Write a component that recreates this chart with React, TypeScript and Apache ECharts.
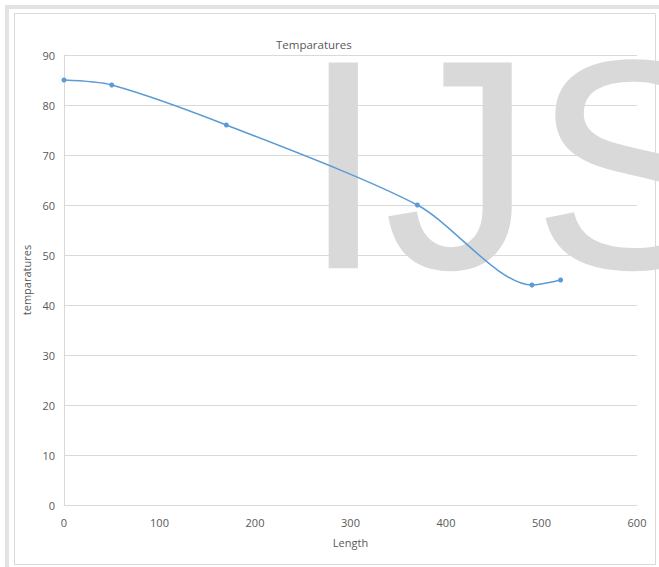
import React, { useEffect, useRef } from "react";
import * as echarts from "echarts";

// Measured temperatures along the length
const lengths = [0, 50, 170, 370, 490, 520];
const temperatures = [85, 84, 76, 60, 44, 45];

const chartTitle = "Temparatures";
const xAxisName = "Length";
const yAxisName = "temparatures";
const watermark = "IJS";

const FONT = "'Open Sans', 'Noto Sans', sans-serif";
const LABEL_COLOR = "#595959";
const GRID_COLOR = "#d9d9d9";

export default function App() {
  const ref = useRef<HTMLDivElement>(null);

  useEffect(() => {
    document.body.style.margin = "0";
    if (!ref.current) return;
    const chart = echarts.init(ref.current, null, { renderer: "svg" });
    const points = lengths.map((x, i) => [x, temperatures[i]]);

    chart.setOption({
      animation: false,
      backgroundColor: "#ffffff",
      title: {
        text: chartTitle,
        left: 271,
        top: 33,
        textStyle: { fontFamily: FONT, fontSize: 11.5, fontWeight: "normal", color: LABEL_COLOR },
      },
      grid: { left: 64, right: 22, top: 55, bottom: 62, containLabel: false },
      xAxis: {
        type: "value",
        min: 0,
        max: 600,
        interval: 100,
        name: xAxisName,
        nameLocation: "middle",
        nameGap: 32,
        nameTextStyle: { fontFamily: FONT, fontSize: 11, color: LABEL_COLOR },
        axisLine: { show: true, lineStyle: { color: GRID_COLOR, width: 1 } },
        axisTick: { show: false },
        axisLabel: { fontFamily: FONT, fontSize: 11, color: LABEL_COLOR, margin: 12 },
        splitLine: { show: false },
      },
      yAxis: {
        type: "value",
        min: 0,
        max: 90,
        interval: 10,
        name: yAxisName,
        nameLocation: "middle",
        nameGap: 25,
        nameRotate: 90,
        nameTextStyle: { fontFamily: FONT, fontSize: 11, color: LABEL_COLOR },
        axisLine: { show: true, lineStyle: { color: GRID_COLOR, width: 1 } },
        axisTick: { show: false },
        axisLabel: { fontFamily: FONT, fontSize: 11, color: LABEL_COLOR, margin: 9 },
        splitLine: { show: true, lineStyle: { color: GRID_COLOR, width: 1 } },
      },
      graphic: [
        // outer panel frame
        {
          type: "rect",
          z: -20,
          silent: true,
          shape: { x: 7, y: 7, width: 660, height: 570 },
          style: { fill: "none", stroke: "#e3e3e3", lineWidth: 4 },
        },
        // chart border
        {
          type: "rect",
          z: -20,
          silent: true,
          shape: { x: 14.5, y: 13.5, width: 641, height: 551 },
          style: { fill: "#ffffff", stroke: GRID_COLOR, lineWidth: 1 },
        },
        // watermark letters
        {
          type: "text",
          z: -10,
          silent: true,
          x: 302,
          y: 313,
          style: {
            text: watermark,
            fontFamily: "'Liberation Sans', Arial, sans-serif",
            fontSize: 297,
            fill: "#d9d9d9",
            stroke: "#d9d9d9",
            lineWidth: 1.5,
            textVerticalAlign: "bottom",
          },
        },
      ],
      series: [
        {
          type: "line",
          data: points,
          smooth: 0.28,
          symbol: "circle",
          symbolSize: 5,
          lineStyle: { color: "#5b9bd5", width: 1.5 },
          itemStyle: { color: "#5b9bd5" },
        },
      ],
    });

    return () => chart.dispose();
  }, []);

  return <div ref={ref} style={{ width: 659, height: 567 }} />;
}
